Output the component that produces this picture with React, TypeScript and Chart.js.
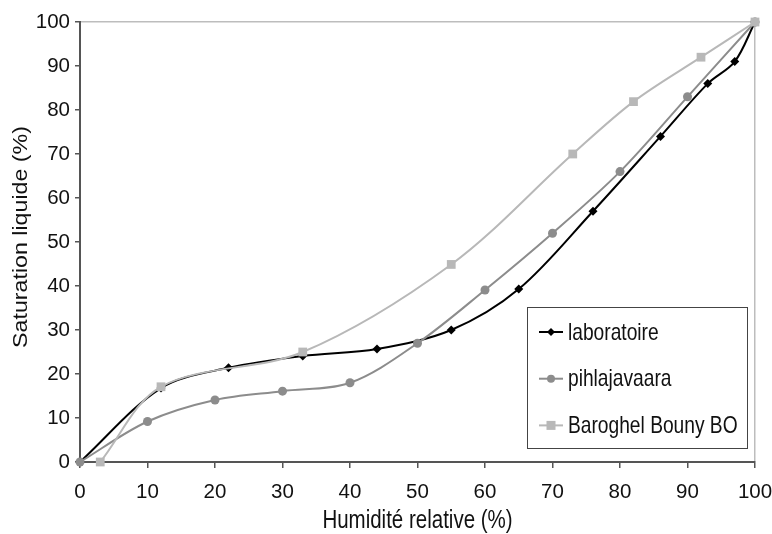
import React, { useEffect, useRef } from "react";
import { Chart, registerables } from "chart.js";

Chart.register(...registerables);

const seriesNames = ["laboratoire", "pihlajavaara", "Baroghel Bouny BO"];
const labX = [0, 12, 22, 33, 44, 55, 65, 76, 86, 93, 97, 100];
const labY = [0, 16.8, 21.4, 24.1, 25.7, 30, 39.3, 57, 74, 86, 91, 100];
const pihX = [0, 10, 20, 30, 40, 50, 60, 70, 80, 90, 100];
const pihY = [0, 9.2, 14.1, 16.1, 18, 27, 39.1, 52, 66, 83, 100];
const barX = [3, 12, 33, 55, 73, 82, 92, 100];
const barY = [0, 17.1, 25, 44.9, 70, 81.9, 92, 100];
const seriesColors = ["#000000", "#8c8c8c", "#b8b8b8"];
const pointStyles = ["rectRot", "circle", "rect"];
const pointRadii = [4.5, 4.5, 6.2];
const xTitle = "Humidité relative (%)";
const yTitle = "Saturation liquide (%)";

const toPts = (xs: number[], ys: number[]) => xs.map((x, i) => ({ x, y: ys[i] }));

const FONT = "'Liberation Sans', Arial, sans-serif";
const NARROW = "'Liberation Sans Narrow', 'Arial Narrow', 'Liberation Sans', sans-serif";
const VSTRETCH = 1.25;

const titlePlugin = {
  id: "stretchedTitles",
  afterDraw(chart: any) {
    const { ctx, chartArea } = chart;
    ctx.save();
    ctx.fillStyle = "#111111";
    ctx.font = `20.5px ${FONT}`;
    ctx.textAlign = "center";
    ctx.textBaseline = "middle";
    // x title
    ctx.save();
    ctx.translate((chartArea.left + chartArea.right) / 2, 521);
    ctx.scale(1, VSTRETCH);
    ctx.fillText(xTitle, 0, 0);
    ctx.restore();
    // y title
    ctx.save();
    ctx.translate(21, (chartArea.top + chartArea.bottom) / 2 - 5);
    ctx.rotate(-Math.PI / 2);
    ctx.scale(1.16, 1);
    ctx.font = `20px ${FONT}`;
    ctx.fillText(yTitle, 0, 0);
    ctx.restore();
    ctx.restore();
  },
};

const legendPlugin = {
  id: "boxLegend",
  afterDraw(chart: any) {
    const { ctx, chartArea } = chart;
    const w = 220;
    const h = 141;
    const x0 = chartArea.right - 8 - w;
    const y0 = chartArea.bottom - 14 - h;
    ctx.save();
    ctx.fillStyle = "#ffffff";
    ctx.fillRect(x0, y0, w, h);
    ctx.strokeStyle = "#444444";
    ctx.lineWidth = 1;
    ctx.strokeRect(Math.round(x0) + 0.5, Math.round(y0) + 0.5, w, h);
    chart.data.datasets.forEach((ds: any, i: number) => {
      const cy = y0 + 25 + i * 46.7;
      const lx0 = x0 + 12;
      const lx1 = x0 + 36;
      ctx.strokeStyle = ds.borderColor;
      ctx.lineWidth = 2;
      ctx.beginPath();
      ctx.moveTo(lx0, cy);
      ctx.lineTo(lx1, cy);
      ctx.stroke();
      const cx = (lx0 + lx1) / 2;
      ctx.fillStyle = ds.pointBackgroundColor;
      const st = ds.pointStyle;
      if (st === "rectRot") {
        const r = 4;
        ctx.beginPath();
        ctx.moveTo(cx, cy - r);
        ctx.lineTo(cx + r, cy);
        ctx.lineTo(cx, cy + r);
        ctx.lineTo(cx - r, cy);
        ctx.closePath();
        ctx.fill();
      } else if (st === "circle") {
        ctx.beginPath();
        ctx.arc(cx, cy, 4, 0, Math.PI * 2);
        ctx.fill();
      } else {
        ctx.fillRect(cx - 4.5, cy - 4.5, 9, 9);
      }
      ctx.save();
      ctx.fillStyle = "#111111";
      ctx.font = `19.2px ${FONT}`;
      ctx.textBaseline = "middle";
      ctx.textAlign = "left";
      ctx.translate(x0 + 41, cy + 1);
      ctx.scale(1, VSTRETCH);
      ctx.fillText(ds.label, 0, 0);
      ctx.restore();
    });
    ctx.restore();
  },
};

export default function App() {
  const ref = useRef<HTMLCanvasElement | null>(null);
  useEffect(() => {
    if (!ref.current) return;
    const dataArr = [toPts(labX, labY), toPts(pihX, pihY), toPts(barX, barY)];
    const chart = new Chart(ref.current, {
      type: "line",
      data: {
        datasets: dataArr.map((d, i) => ({
          label: seriesNames[i],
          data: d,
          borderColor: seriesColors[i],
          backgroundColor: seriesColors[i],
          pointBackgroundColor: seriesColors[i],
          pointBorderColor: seriesColors[i],
          pointBorderWidth: 0,
          pointStyle: pointStyles[i] as any,
          pointRadius: pointRadii[i],
          borderWidth: 2,
          tension: 0.33,
          fill: false,
          clip: false as any,
          order: 3 - i,
        })),
      },
      options: {
        responsive: false,
        animation: false,
        layout: { padding: { top: 22, right: 17, left: 0, bottom: 0 } },
        plugins: {
          legend: { display: false },
          tooltip: { enabled: false },
        },
        scales: {
          x: {
            type: "linear",
            min: 0,
            max: 100,
            afterFit: (s: any) => {
              s.height = 72;
              s.paddingLeft = 0;
              s.paddingRight = 0;
            },
            ticks: {
              stepSize: 10,
              color: "#111",
              padding: 12,
              font: { family: NARROW, size: 20.5 },
              maxRotation: 0,
            },
            grid: {
              color: (c: any) => (c.tick && c.tick.value === 100 ? "#bdbdbd" : "rgba(0,0,0,0)"),
              tickColor: "#555",
              tickLength: 6,
              lineWidth: 1.5,
            },
            border: { color: "#555", width: 2 },
            title: { display: false, text: xTitle },
          },
          y: {
            type: "linear",
            min: 0,
            max: 100,
            afterFit: (s: any) => {
              s.width = 80;
              s.paddingTop = 0;
              s.paddingBottom = 0;
            },
            ticks: {
              stepSize: 10,
              color: "#111",
              padding: 5,
              font: { family: NARROW, size: 20.5 },
            },
            grid: {
              color: (c: any) => (c.tick && c.tick.value === 100 ? "#bdbdbd" : "rgba(0,0,0,0)"),
              tickColor: "#555",
              tickLength: 5,
              lineWidth: 1.5,
            },
            border: { color: "#555", width: 2 },
            title: { display: false, text: yTitle },
          },
        },
      },
      plugins: [legendPlugin, titlePlugin],
    });
    return () => chart.destroy();
  }, []);
  return (
    <div style={{ position: "absolute", left: 0, top: 0, width: 772, height: 534, background: "#fff" }}>
      <canvas ref={ref} width={772} height={534} />
    </div>
  );
}
